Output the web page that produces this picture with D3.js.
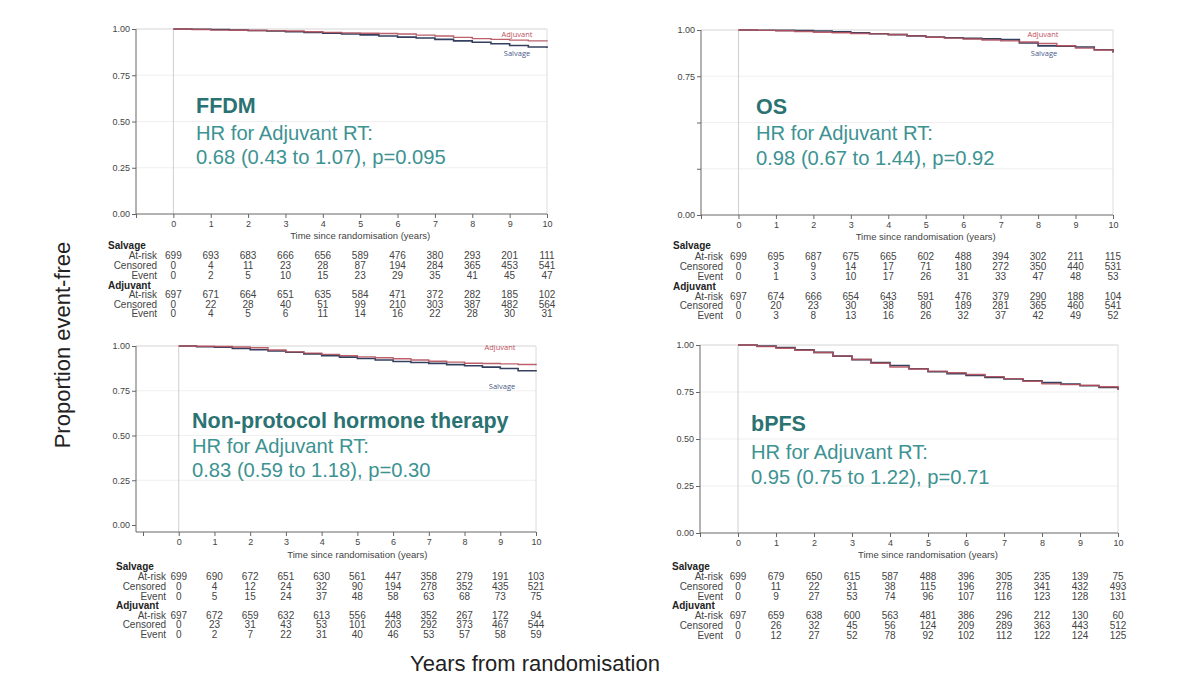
<!DOCTYPE html>
<html><head><meta charset="utf-8">
<script src="https://cdn.jsdelivr.net/npm/d3@7"></script>
<style>
html,body{margin:0;padding:0;background:#fff;}
svg{display:block;font-family:"Liberation Sans",Arial,sans-serif;}
</style></head>
<body><svg id="c" width="1200" height="689"></svg>
<script>
// ---------- DATA ----------
const times = [0,0.5,1,1.5,2,2.5,3,3.5,4,4.5,5,5.5,6,6.5,7,7.5,8,8.5,9,9.5,10];
const tableYears = [0,1,2,3,4,5,6,7,8,9,10];
const yTicks = [0,0.25,0.5,0.75,1];
const xTicks = [-1,0,1,2,3,4,5,6,7,8,9,10];

const ffdmSalvage  = [1,0.999,0.997,0.995,0.992,0.989,0.985,0.981,0.977,0.973,0.968,0.962,0.956,0.951,0.944,0.936,0.928,0.920,0.911,0.903,0.897];
const ffdmAdjuvant = [1,0.997,0.994,0.993,0.992,0.991,0.989,0.985,0.982,0.979,0.977,0.976,0.973,0.967,0.962,0.955,0.948,0.944,0.940,0.936,0.932];
const osSalvage    = [1,0.999,0.998,0.997,0.995,0.990,0.985,0.980,0.975,0.968,0.962,0.958,0.955,0.952,0.948,0.930,0.914,0.912,0.908,0.893,0.878];
const osAdjuvant   = [1,0.998,0.996,0.992,0.988,0.985,0.981,0.979,0.976,0.968,0.961,0.956,0.951,0.946,0.941,0.935,0.927,0.915,0.902,0.892,0.878];
const nphtSalvage  = [1,0.996,0.993,0.986,0.979,0.972,0.965,0.956,0.946,0.938,0.930,0.922,0.913,0.908,0.903,0.896,0.890,0.882,0.874,0.862,0.857];
const nphtAdjuvant = [1,0.999,0.997,0.994,0.990,0.978,0.967,0.960,0.953,0.946,0.939,0.934,0.929,0.922,0.915,0.910,0.904,0.902,0.900,0.897,0.893];
const bpfsSalvage  = [1,0.994,0.987,0.974,0.961,0.941,0.922,0.906,0.891,0.874,0.858,0.848,0.838,0.828,0.819,0.810,0.800,0.792,0.783,0.774,0.762];
const bpfsAdjuvant = [1,0.992,0.983,0.972,0.960,0.941,0.923,0.903,0.883,0.872,0.861,0.852,0.843,0.832,0.821,0.807,0.793,0.789,0.786,0.778,0.760];

const ffdmSalvageRisk  = [[699,693,683,666,656,589,476,380,293,201,111],[0,4,11,23,28,87,194,284,365,453,541],[0,2,5,10,15,23,29,35,41,45,47]];
const ffdmAdjuvantRisk = [[697,671,664,651,635,584,471,372,282,185,102],[0,22,28,40,51,99,210,303,387,482,564],[0,4,5,6,11,14,16,22,28,30,31]];
const osSalvageRisk    = [[699,695,687,675,665,602,488,394,302,211,115],[0,3,9,14,17,71,180,272,350,440,531],[0,1,3,10,17,26,31,33,47,48,53]];
const osAdjuvantRisk   = [[697,674,666,654,643,591,476,379,290,188,104],[0,20,23,30,38,80,189,281,365,460,541],[0,3,8,13,16,26,32,37,42,49,52]];
const nphtSalvageRisk  = [[699,690,672,651,630,561,447,358,279,191,103],[0,4,12,24,32,90,194,278,352,435,521],[0,5,15,24,37,48,58,63,68,73,75]];
const nphtAdjuvantRisk = [[697,672,659,632,613,556,448,352,267,172,94],[0,23,31,43,53,101,203,292,373,467,544],[0,2,7,22,31,40,46,53,57,58,59]];
const bpfsSalvageRisk  = [[699,679,650,615,587,488,396,305,235,139,75],[0,11,22,31,38,115,196,278,341,432,493],[0,9,27,53,74,96,107,116,123,128,131]];
const bpfsAdjuvantRisk = [[697,659,638,600,563,481,386,296,212,130,60],[0,26,32,45,56,124,209,289,363,443,512],[0,12,27,52,78,92,102,112,122,124,125]];

const groupNames = ["Salvage","Adjuvant"];
const rowNames = ["At-risk","Censored","Event"];
const titles = ["FFDM","OS","Non-protocol hormone therapy","bPFS"];
const hrLine1 = "HR for Adjuvant RT:";
const hrLines = ["0.68 (0.43 to 1.07), p=0.095","0.98 (0.67 to 1.44), p=0.92","0.83 (0.59 to 1.18), p=0.30","0.95 (0.75 to 1.22), p=0.71"];
const xTitle = "Time since randomisation (years)";
const globalY = "Proportion event-free";
const globalX = "Years from randomisation";

// ---------- LAYOUT ----------
const panels = [
  {sal:ffdmSalvage, adj:ffdmAdjuvant, salR:ffdmSalvageRisk, adjR:ffdmAdjuvantRisk,
   x0:136, x1:547, yT:29, yB:214, off:0, tickY:225, titleY:239,
   grpX:108, rowX:157, rowsY:[246,256,266,276,286,295,305,314],
   yLabelsShown:[true,true,true,true,true],
   labels:{adj:[517,37],sal:[517,56]},
   text:{x:196, y1:113, y2:140, y3:164}},
  {sal:osSalvage, adj:osAdjuvant, salR:osSalvageRisk, adjR:osAdjuvantRisk,
   x0:701, x1:1113, yT:30, yB:215, off:0, tickY:226, titleY:240,
   grpX:673, rowX:723, rowsY:[246,257,267,277,287,297,306,316],
   yLabelsShown:[true,false,false,true,true],
   labels:{adj:[1043,37],sal:[1044,56]},
   text:{x:756, y1:114, y2:140, y3:165}},
  {sal:nphtSalvage, adj:nphtAdjuvant, salR:nphtSalvageRisk, adjR:nphtAdjuvantRisk,
   x0:143, x1:536, yT:346, yB:525, off:7, tickY:543, titleY:558,
   grpX:116, rowX:166, rowsY:[567,577,587,597,606,616,625,635],
   yLabelsShown:[true,true,true,true,true],
   labels:{adj:[500,350],sal:[502,389]},
   text:{x:192, y1:428, y2:453, y3:477}},
  {sal:bpfsSalvage, adj:bpfsAdjuvant, salR:bpfsSalvageRisk, adjR:bpfsAdjuvantRisk,
   x0:700, x1:1118, yT:345, yB:533, off:0, tickY:544, titleY:558,
   grpX:672, rowX:723, rowsY:[567,577,587,597,606,616,626,636],
   yLabelsShown:[true,true,true,true,true],
   labels:null,
   text:{x:751, y1:431, y2:459, y3:484}}
];

const cAdj = "#b5505c", cSal = "#34405e";
const cTitle = "#2b7272", cText = "#3d9292";
const svg = d3.select("#c");

panels.forEach((p, i) => {
  const x = d3.scaleLinear().domain([-1,10]).range([p.x0,p.x1]);
  const y = d3.scaleLinear().domain([0,1]).range([p.yB,p.yT]);
  const g = svg.append("g");

  // faint grid
  g.selectAll("line.grid").data(yTicks.filter(v=>v>0 && v<1)).join("line")
    .attr("x1", p.x0 - p.off).attr("x2", x(10)).attr("y1", d=>y(d)).attr("y2", d=>y(d))
    .attr("stroke","#efefef").attr("stroke-width",1);
  // top line and frame lines
  g.append("line").attr("x1",p.x0 - p.off).attr("x2",x(10)).attr("y1",y(1)).attr("y2",y(1)).attr("stroke","#d4d4d4");
  g.append("line").attr("x1",x(0)).attr("x2",x(0)).attr("y1",y(1)).attr("y2",y(0)+p.off).attr("stroke","#cfcfcf");
  g.append("line").attr("x1",x(10)).attr("x2",x(10)).attr("y1",y(1)).attr("y2",y(0)+p.off).attr("stroke","#dcdcdc");

  // axes
  const yAxis = d3.axisLeft(y).tickValues(yTicks).tickSize(4).tickPadding(2)
    .tickFormat((d,k)=> p.yLabelsShown[k] ? d3.format(".2f")(d) : "");
  const ya = g.append("g").attr("transform",`translate(${p.x0 - p.off},0)`).call(yAxis);
  ya.select(".domain").attr("stroke","#666").attr("d", `M0,${y(1)}V${y(0)+p.off}`);
  const xAxis = d3.axisBottom(x).tickValues(xTicks).tickSize(4).tickPadding(3)
    .tickFormat(d => d < 0 ? "" : d);
  const xa = g.append("g").attr("transform",`translate(0,${y(0)+p.off})`).call(xAxis);
  xa.select(".domain").attr("stroke","#666").attr("d", `M${p.x0 - p.off},0H${x(10)}`);
  [ya, xa].forEach(a => {
    a.selectAll(".tick line").attr("stroke","#666");
    a.selectAll(".tick text").attr("fill","#444").style("font-size","9px")
     .style("font-family",'"Liberation Sans",Arial,sans-serif');
  });
  xa.selectAll(".tick text").attr("dy", null)
    .attr("y", p.tickY - (y(0)+p.off)).attr("dominant-baseline","middle");

  // x title
  g.append("text").attr("x",(x(0)+x(10))/2).attr("y",p.titleY).attr("text-anchor","middle")
    .attr("fill","#444").style("font-size","9.5px").text(xTitle);

  // curves
  const line = d3.line().x((d,k)=>x(times[k])).y(d=>y(d)).curve(d3.curveStepAfter);
  g.append("path").datum(p.sal).attr("d",line).attr("fill","none").attr("stroke",cSal).attr("stroke-width",1.6);
  g.append("path").datum(p.adj).attr("d",line).attr("fill","none").attr("stroke",cAdj).attr("stroke-width",1.4).attr("opacity",0.9);

  if (p.labels) {
    g.append("text").attr("x",p.labels.adj[0]).attr("y",p.labels.adj[1]).attr("text-anchor","middle")
      .attr("fill","#c0505c").style("font-size","7.5px").style("font-family",'"Open Sans",sans-serif').text(groupNames[1]);
    g.append("text").attr("x",p.labels.sal[0]).attr("y",p.labels.sal[1]).attr("text-anchor","middle")
      .attr("fill","#4a5a8a").style("font-size","7.5px").style("font-family",'"Open Sans",sans-serif').text(groupNames[0]);
  }

  // annotation text
  g.append("text").attr("x",p.text.x).attr("y",p.text.y1).attr("fill",cTitle)
    .style("font-size","21.5px").style("font-weight","bold").text(titles[i]);
  g.append("text").attr("x",p.text.x).attr("y",p.text.y2).attr("fill",cText)
    .style("font-size","20.2px").text(hrLine1);
  g.append("text").attr("x",p.text.x).attr("y",p.text.y3).attr("fill",cText)
    .style("font-size","20.2px").text(hrLines[i]);

  // risk table
  const groups = [p.salR, p.adjR];
  groups.forEach((rows, gi) => {
    const baseRow = gi*4;
    g.append("text").attr("x",p.grpX).attr("y",p.rowsY[baseRow]).attr("dominant-baseline","middle")
      .attr("fill","#222").style("font-size","10px").style("font-weight","bold").text(groupNames[gi]);
    rows.forEach((vals, ri) => {
      const yy = p.rowsY[baseRow+1+ri];
      g.append("text").attr("x",p.rowX).attr("y",yy).attr("text-anchor","end").attr("dominant-baseline","middle")
        .attr("fill","#444").style("font-size","10px").text(rowNames[ri]);
      g.selectAll(null).data(vals).join("text")
        .attr("x",(d,k)=>x(tableYears[k])).attr("y",yy).attr("text-anchor","middle").attr("dominant-baseline","middle")
        .attr("fill","#444").style("font-size","10px").text(d=>d);
    });
  });
});

// global axis titles
svg.append("text").attr("transform","translate(70,345) rotate(-90)").attr("text-anchor","middle")
  .attr("fill","#222").style("font-size","22px").text(globalY);
svg.append("text").attr("x",535).attr("y",671).attr("text-anchor","middle")
  .attr("fill","#222").style("font-size","22px").text(globalX);
</script></body></html>
